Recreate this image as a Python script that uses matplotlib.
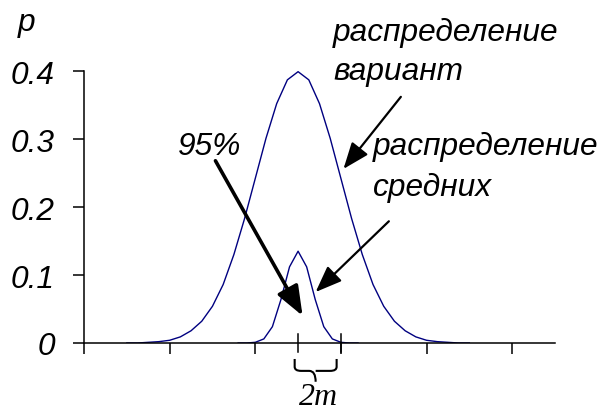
import matplotlib
matplotlib.use('Agg')
import matplotlib.pyplot as plt
from matplotlib.path import Path
from matplotlib.patches import PathPatch

# distribution of individual values (x in units of sigma)
x_var = [-4.0, -3.75, -3.5, -3.25, -3.0, -2.75, -2.5, -2.25, -2.0, -1.75, -1.5,
         -1.25, -1.0, -0.75, -0.5, -0.25, 0.0, 0.25, 0.5, 0.75, 1.0, 1.25, 1.5,
         1.75, 2.0, 2.25, 2.5, 2.75, 3.0, 3.25, 3.5, 3.75, 4.0]
p_var = [0.000, 0.000, 0.001, 0.002, 0.004, 0.009, 0.018, 0.032, 0.054, 0.086, 0.130,
         0.183, 0.242, 0.301, 0.352, 0.387, 0.399, 0.387, 0.352, 0.301, 0.242, 0.183,
         0.130, 0.086, 0.054, 0.032, 0.018, 0.009, 0.004, 0.002, 0.001, 0.000, 0.000]

# distribution of sample means
x_mean = [-1.4, -1.2, -1.0, -0.8, -0.6, -0.4, -0.2, 0.0, 0.2, 0.4, 0.6, 0.8, 1.0, 1.2, 1.4]
p_mean = [0.000, 0.000, 0.001, 0.006, 0.024, 0.064, 0.112, 0.135, 0.112, 0.064, 0.024,
          0.006, 0.001, 0.000, 0.000]

x_ticks = [-5, -3, -1, 1, 3, 5]
y_ticks = [0, 0.1, 0.2, 0.3, 0.4]
y_labels = ['0', '0.1', '0.2', '0.3', '0.4']

sans = 'Liberation Sans'
fs = 22.8
line_col = '#000080'

fig = plt.figure(figsize=(6.13, 4.14), dpi=100)
ax = fig.add_axes([84 / 613, 70 / 414, (555 - 84) / 613, (344 - 72) / 414])

ax.plot(x_var, p_var, color=line_col, lw=1.0)
ax.plot(x_mean, p_mean, color=line_col, lw=1.0)

ax.set_xlim(-5, 6)
ax.set_ylim(0, 0.4)
for s in ['top', 'right']:
    ax.spines[s].set_visible(False)
for s in ['left', 'bottom']:
    ax.spines[s].set_linewidth(1.1)

ax.set_xticks(x_ticks)
ax.set_xticklabels([])
ax.set_yticks(y_ticks)
ax.set_yticklabels(y_labels, fontfamily=sans, fontstyle='italic', fontsize=fs)
ax.tick_params(axis='both', direction='out', length=8, width=1.1)
ax.tick_params(axis='y', pad=13)

# marks across the axis at the mean and at +1
for xm in [0, 1]:
    ax.plot([xm, xm], [-0.0135, 0.0135], color='black', lw=1.1, clip_on=False)

txt = dict(fontfamily=sans, fontstyle='italic', fontsize=fs, ha='left', va='baseline')
ax.text(-6.55, 0.460, 'p', **txt)
ax.text(-2.80, 0.278, '95%', **txt)
ax.text(0.81, 0.4456, 'распределение', **txt)
ax.text(0.83, 0.388, 'вариант', **txt)
ax.text(1.745, 0.278, 'распределение', **txt)
ax.text(1.745, 0.218, 'средних', **txt)

ax.annotate('', xy=(0.105, 0.040), xytext=(-1.93, 0.268),
            arrowprops=dict(arrowstyle='-|>,head_length=0.9,head_width=0.35',
                            lw=2.6, color='black', shrinkA=0, shrinkB=0,
                            mutation_scale=20))
ax.annotate('', xy=(1.06, 0.256), xytext=(2.40, 0.362),
            arrowprops=dict(arrowstyle='-|>,head_length=0.9,head_width=0.35',
                            lw=1.6, color='black', shrinkA=0, shrinkB=0,
                            mutation_scale=18))
ax.annotate('', xy=(0.41, 0.075), xytext=(2.12, 0.179),
            arrowprops=dict(arrowstyle='-|>,head_length=0.9,head_width=0.35',
                            lw=1.6, color='black', shrinkA=0, shrinkB=0,
                            mutation_scale=18))

# curly brace under the axis from the mean to +1
xl, xr = -0.08, 0.90
xc = (xl + xr) / 2
yt, ym, yb = -0.0235, -0.041, -0.057
r = 0.15
verts = [(xl, yt), (xl, ym + 0.006), (xl, ym), (xl + r, ym),
         (xc - r, ym), (xc, ym), (xc, yb),
         (xc, ym), (xc + r, ym), (xr - r, ym),
         (xr, ym), (xr, ym + 0.006), (xr, yt)]
codes = [Path.MOVETO, Path.LINETO, Path.CURVE3, Path.CURVE3,
         Path.LINETO, Path.CURVE3, Path.CURVE3,
         Path.MOVETO, Path.CURVE3, Path.LINETO,
         Path.CURVE3, Path.CURVE3, Path.LINETO]
ax.add_patch(PathPatch(Path(verts, codes), fill=False, lw=1.5, color='black', clip_on=False))
ax.text(0.47, -0.090, '2m', fontfamily='Liberation Serif', fontstyle='italic',
        fontsize=23, ha='center', va='baseline')

fig.savefig('out.png', dpi=100)
